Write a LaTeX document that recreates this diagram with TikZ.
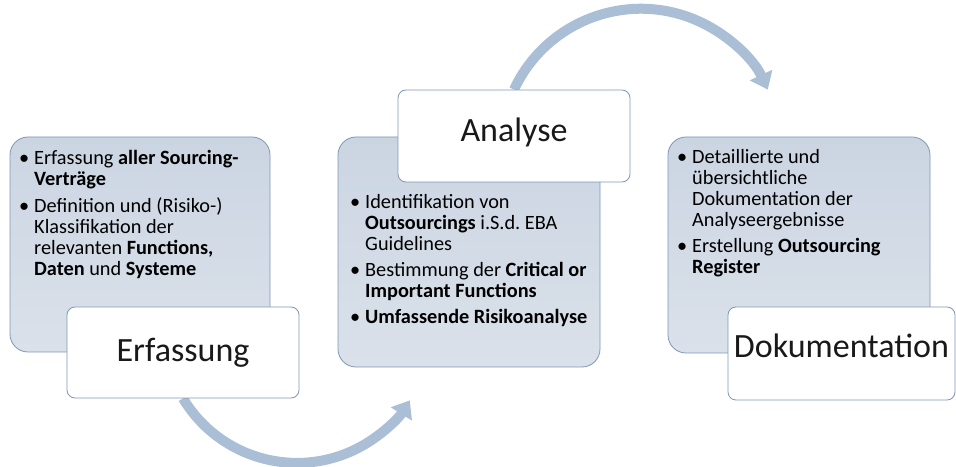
\documentclass[tikz,border=0pt]{standalone}
\usepackage{fontspec}
\setmainfont{Carlito}
\usepackage{xcolor}
\usepackage{tikz}
\usetikzlibrary{arrows.meta,positioning,backgrounds}
\definecolor{paneltop}{RGB}{203,213,226}
\definecolor{panelbot}{RGB}{218,225,234}
\definecolor{edgeblue}{RGB}{126,151,182}
\definecolor{flowblue}{RGB}{170,190,214}
\newcommand{\blt}{\makebox[15pt][l]{\textbullet}}

\begin{document}
\begin{tikzpicture}[x=1pt,y=1pt,
  panel/.style={draw=edgeblue,line width=0.8pt,rounded corners=18pt,
    top color=paneltop,bottom color=panelbot},
  stage/.style={draw=edgeblue,line width=0.8pt,rounded corners=8pt,fill=white,
    font=\fontsize{34}{36}\selectfont,text=black!90},
  points/.style={anchor=north west,inner sep=0pt,align=left,
    font=\fontsize{20.3}{21}\selectfont\frenchspacing,text=black},
  flow/.style={draw=flowblue,line width=10pt,-{Triangle[width=24pt,length=16pt]}}]
  \useasboundingbox (0,0) rectangle (956,466);

  % grey panels with the bullet lists
  \node[panel,minimum width=260pt,minimum height=215pt] (erfp) at (140,221.5) {};
  \node[panel,minimum width=262pt,minimum height=230pt] (anap) at (469,214) {};
  \node[panel,minimum width=262pt,minimum height=216pt] (dokp) at (799,221) {};

  \node[points] (erft) at (19,316) {%
    \begin{tabular}{@{}l@{}l@{}}
      \blt & Erfassung \textbf{aller Sourcing-}\\
           & \textbf{Verträge}\\[5pt]
      \blt & Definition und (Risiko-)\\
           & Klassifikation der\\
           & relevanten \textbf{Functions,}\\
           & \textbf{Daten} und \textbf{Systeme}
    \end{tabular}};
  \node[points] (anat) at (350,272) {%
    \begin{tabular}{@{}l@{}l@{}}
      \blt & Identifikation von\\
           & \textbf{Outsourcings} i.S.d. EBA\\
           & Guidelines\\[5pt]
      \blt & Bestimmung der \textbf{Critical or}\\
           & \textbf{Important Functions}\\[5pt]
      \blt & \textbf{Umfassende Risikoanalyse}
    \end{tabular}};
  \node[points] (dokt) at (677,317) {%
    \begin{tabular}{@{}l@{}l@{}}
      \blt & Detaillierte und\\
           & übersichtliche\\
           & Dokumentation der\\
           & Analyseergebnisse\\[5pt]
      \blt & Erstellung \textbf{Outsourcing}\\
           & \textbf{Register}
    \end{tabular}};

  % stage labels
  \node[stage,minimum width=232pt,minimum height=91pt] (erf) at (183,113.5) {Erfassung};
  \node[stage,minimum width=232pt,minimum height=92pt] (ana) at (514,330) {\raisebox{4pt}[\height][\depth]{Analyse}};
  \node[stage,minimum width=227pt,minimum height=93pt] (dok) at (841.5,112.5) {\raisebox{8pt}[\height][\depth]{Dokumentation}};

  % curved arrows between the stages
  \begin{scope}[on background layer]
    \draw[flow] (erf.south) arc[start angle=211,end angle=328,radius=133];
    \draw[flow] (ana.north) arc[start angle=155,end angle=25,radius=140];
  \end{scope}
\end{tikzpicture}
\end{document}
